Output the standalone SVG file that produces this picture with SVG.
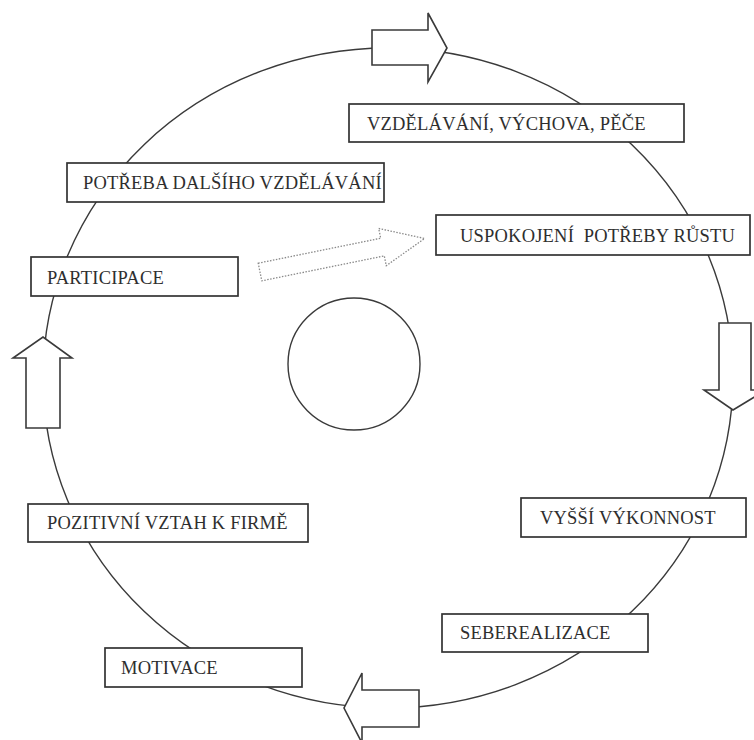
<svg xmlns="http://www.w3.org/2000/svg" width="754" height="740" viewBox="0 0 754 740">
<style>
.bg{fill:#fff}
.ring{fill:none;stroke:#3a3a3a;stroke-width:1.4}
.box{fill:#fff;stroke:#333;stroke-width:1.7}
.arrow{fill:#fff;stroke:#3a3a3a;stroke-width:1.6;stroke-linejoin:miter}
.dotted{fill:#fff;stroke:#8a8a8a;stroke-width:1.3;stroke-dasharray:1.5 1.5}
.lbl{font-family:'Liberation Serif','Times New Roman',serif;font-size:18.5px;letter-spacing:0.2px;fill:#2e2e2e;white-space:pre}
</style>
<rect class="bg" width="754" height="740"/>
<g id="connectors">
<ellipse class="ring" cx="388" cy="378" rx="345" ry="330"/>
<path class="arrow" d="M372,30 H428 V13 L447,48 L428,82 V65 H372 Z"/>
<path class="arrow" d="M719,323 H751 V390 H766 L733,410 L704,390 H719 Z"/>
<path class="arrow" d="M26,428 V358 H13 L43,337 L72,358 H60 V428 Z"/>
<path class="arrow" d="M419,690 H362 V673 L344,708 L362,743 V727 H419 Z"/>
<g transform="translate(260,272) rotate(-11.5)">
<path class="dotted" d="M0,-9 H125 V-19 L168,0 L125,19 V9 H0 Z"/>
</g>
</g>
<g id="center"><circle class="ring" cx="354" cy="364" r="66"/></g>
<g id="n1"><rect class="box" x="349" y="104" width="335" height="38"/><text class="lbl" x="367" y="130">VZDĚLÁVÁNÍ, VÝCHOVA, PĚČE</text></g>
<g id="n2"><rect class="box" x="67" y="163" width="317" height="39"/><text class="lbl" x="83" y="189">POTŘEBA DALŠÍHO VZDĚLÁVÁNÍ</text></g>
<g id="n3"><rect class="box" x="436" y="215" width="314" height="40"/><text class="lbl" x="460" y="242">USPOKOJENÍ  POTŘEBY RŮSTU</text></g>
<g id="n4"><rect class="box" x="31" y="257" width="207" height="39"/><text class="lbl" x="47" y="284">PARTICIPACE</text></g>
<g id="n5"><rect class="box" x="28" y="504" width="280" height="38"/><text class="lbl" x="47" y="529">POZITIVNÍ VZTAH K FIRMĚ</text></g>
<g id="n6"><rect class="box" x="521" y="498" width="225" height="39"/><text class="lbl" x="540" y="524">VYŠŠÍ VÝKONNOST</text></g>
<g id="n7"><rect class="box" x="105" y="648" width="197" height="39"/><text class="lbl" x="121" y="674">MOTIVACE</text></g>
<g id="n8"><rect class="box" x="442" y="614" width="206" height="38"/><text class="lbl" x="460" y="639">SEBEREALIZACE</text></g>
</svg>
